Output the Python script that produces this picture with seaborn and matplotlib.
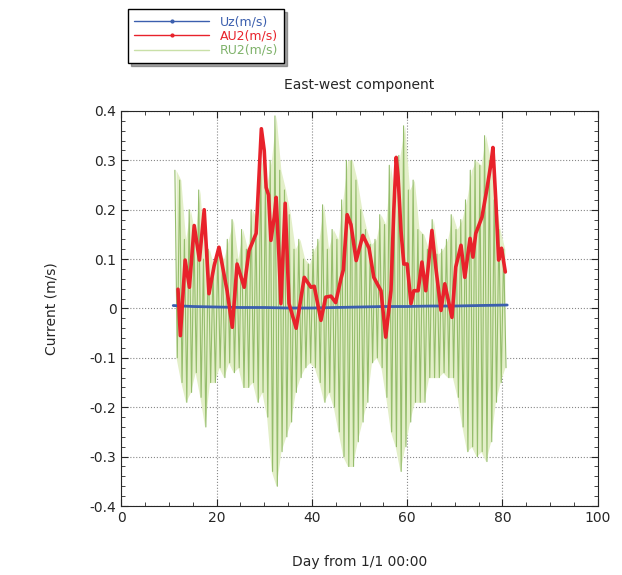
import numpy as np
import pandas as pd
import matplotlib
matplotlib.use("Agg")
import matplotlib.pyplot as plt
import seaborn as sns
from matplotlib.lines import Line2D
from matplotlib.ticker import MultipleLocator, FuncFormatter

# Uz (m/s) - mean flow, almost flat
uz_day = [10.9, 15, 20, 25, 30, 35, 40, 45, 50, 55, 60, 65, 70, 75, 81]
uz_val = [0.006, 0.004, 0.003, 0.002, 0.002, 0.001, 0.001, 0.002, 0.003, 0.004, 0.004, 0.005, 0.005, 0.006, 0.007]

# AU2 (m/s) - residual current (red)
au2_day = [11.9, 12.4, 13.4, 14.3, 15.3, 16.4, 17.4, 18.4, 19.5, 20.5, 22.2, 23.3, 24.3, 25.8,
           26.8, 28.3, 29.4, 30.0, 30.4, 30.9, 31.4, 32.1, 32.5, 33.1, 33.5, 34.4, 35.2, 36.7,
           38.4, 39.8, 40.5, 41.9, 42.9, 44.0, 45.0, 46.1, 46.6, 47.4, 48.2, 49.3, 50.7, 52.0,
           53.0, 54.5, 55.5, 56.6, 57.2, 57.7, 58.1, 58.7, 59.3, 60.0, 60.8, 61.4, 62.3, 63.1,
           63.9, 65.2, 66.0, 67.1, 67.9, 69.4, 70.2, 71.3, 72.1, 73.2, 73.8, 74.4, 75.7, 76.7,
           77.6, 78.0, 78.6, 79.2, 79.8, 80.6]
au2_val = [0.039, -0.055, 0.098, 0.043, 0.168, 0.098, 0.200, 0.030, 0.087, 0.124, 0.036, -0.038, 0.090, 0.043,
           0.117, 0.152, 0.364, 0.320, 0.245, 0.230, 0.138, 0.185, 0.225, 0.104, 0.010, 0.213, 0.010, -0.040,
           0.063, 0.043, 0.045, -0.024, 0.023, 0.025, 0.012, 0.060, 0.078, 0.190, 0.170, 0.097, 0.148, 0.122,
           0.063, 0.036, -0.058, 0.036, 0.200, 0.306, 0.266, 0.158, 0.090, 0.090, 0.010, 0.036, 0.036, 0.094,
           0.036, 0.158, 0.084, -0.004, 0.050, -0.018, 0.084, 0.128, 0.063, 0.142, 0.104, 0.152, 0.185, 0.240,
           0.294, 0.326, 0.220, 0.098, 0.122, 0.074]

# RU2 (m/s) - tidal current, daily high and low
ru2_day = list(range(11, 81))
ru2_high = [0.28, 0.26, 0.14, 0.20, 0.15, 0.24, 0.10, 0.12, 0.08, 0.12,
            0.10, 0.14, 0.18, 0.10, 0.16, 0.12, 0.20, 0.18, 0.30, 0.25,
            0.30, 0.39, 0.28, 0.24, 0.19, 0.12, 0.14, 0.10, 0.09, 0.12,
            0.14, 0.21, 0.12, 0.16, 0.14, 0.22, 0.30, 0.30, 0.26, 0.20,
            0.16, 0.13, 0.14, 0.19, 0.17, 0.29, 0.22, 0.31, 0.37, 0.24,
            0.26, 0.16, 0.15, 0.12, 0.18, 0.11, 0.12, 0.14, 0.19, 0.16,
            0.18, 0.22, 0.28, 0.30, 0.29, 0.35, 0.30, 0.22, 0.16, 0.12]
ru2_low = [-0.10, -0.15, -0.19, -0.17, -0.13, -0.18, -0.24, -0.15, -0.15, -0.12,
           -0.14, -0.11, -0.13, -0.12, -0.16, -0.16, -0.15, -0.19, -0.17, -0.22,
           -0.33, -0.36, -0.29, -0.26, -0.23, -0.17, -0.14, -0.12, -0.11, -0.12,
           -0.15, -0.19, -0.17, -0.20, -0.25, -0.30, -0.32, -0.32, -0.27, -0.23,
           -0.19, -0.11, -0.10, -0.12, -0.18, -0.25, -0.28, -0.33, -0.28, -0.23,
           -0.19, -0.19, -0.19, -0.14, -0.14, -0.14, -0.13, -0.14, -0.14, -0.18,
           -0.24, -0.29, -0.28, -0.30, -0.29, -0.31, -0.27, -0.19, -0.15, -0.12]

df_uz = pd.DataFrame({"day": uz_day, "val": uz_val})
df_au2 = pd.DataFrame({"day": au2_day, "val": au2_val})
rd = np.array(ru2_day)
rx = np.ravel(np.column_stack([rd + 0.25, rd + 0.75]))
ry = np.ravel(np.column_stack([ru2_high, ru2_low]))
df_ru2 = pd.DataFrame({"day": rx, "val": ry})

sns.set_style("ticks")
plt.rcParams["font.family"] = ["DejaVu Sans"]
plt.rcParams["axes.unicode_minus"] = False

fig = plt.figure(figsize=(6.22, 5.75), dpi=100)
ax = fig.add_axes([0.195, 0.12, 0.766, 0.687])

# light band of the tidal signal, then the spikes
ax.fill_between(rd + 0.5, ru2_low, ru2_high, color="#e3efc8", linewidth=0, zorder=1)
sns.lineplot(data=df_ru2, x="day", y="val", ax=ax, color="#95bd6c", linewidth=0.8, sort=False,
             zorder=2)
sns.lineplot(data=df_uz, x="day", y="val", ax=ax, color="#3b5fae", linewidth=2.0, zorder=3)
sns.lineplot(data=df_au2, x="day", y="val", ax=ax, color="#e8222b", linewidth=2.6, zorder=4)

ax.set_xlim(0, 100)
ax.set_ylim(-0.4, 0.4)
ax.xaxis.set_major_locator(MultipleLocator(20))
ax.xaxis.set_minor_locator(MultipleLocator(5))
ax.yaxis.set_major_locator(MultipleLocator(0.1))
ax.yaxis.set_minor_locator(MultipleLocator(0.02))
ax.yaxis.set_major_formatter(FuncFormatter(lambda v, p: "0" if abs(v) < 1e-9 else "%.1f" % v))
ax.tick_params(which="both", direction="in", top=True, right=True, labelsize=10)
ax.tick_params(which="major", length=5)
ax.tick_params(which="minor", length=3)
ax.grid(True, which="major", linestyle=":", color="#888888", linewidth=0.8)
ax.set_axisbelow(True)
for s in ax.spines.values():
    s.set_linewidth(0.8)

ax.set_title("East-west component", fontsize=10, pad=16)
ax.set_xlabel("Day from 1/1 00:00", fontsize=10, labelpad=22)
ax.set_ylabel("Current (m/s)", fontsize=10, labelpad=22)

# legend outside, top-left with shadow
handles = [Line2D([], [], color="#3b5fae", lw=1, marker=".", markersize=4),
           Line2D([], [], color="#e8222b", lw=1, marker=".", markersize=4),
           Line2D([], [], color="#c9e0a8", lw=1)]
labels = ["Uz(m/s)", "AU2(m/s)", "RU2(m/s)"]
leg = fig.legend(handles, labels, loc="upper left",
                 bbox_to_anchor=(0.196, 0.995), frameon=True, fancybox=False, shadow=True,
                 edgecolor="black", fontsize=9, handlelength=6, labelspacing=0.1,
                 borderpad=0.5)
for t, c in zip(leg.get_texts(), ["#3b5fae", "#e8222b", "#7fb26a"]):
    t.set_color(c)
leg.get_frame().set_linewidth(1.0)

fig.savefig("out.png", dpi=100)
